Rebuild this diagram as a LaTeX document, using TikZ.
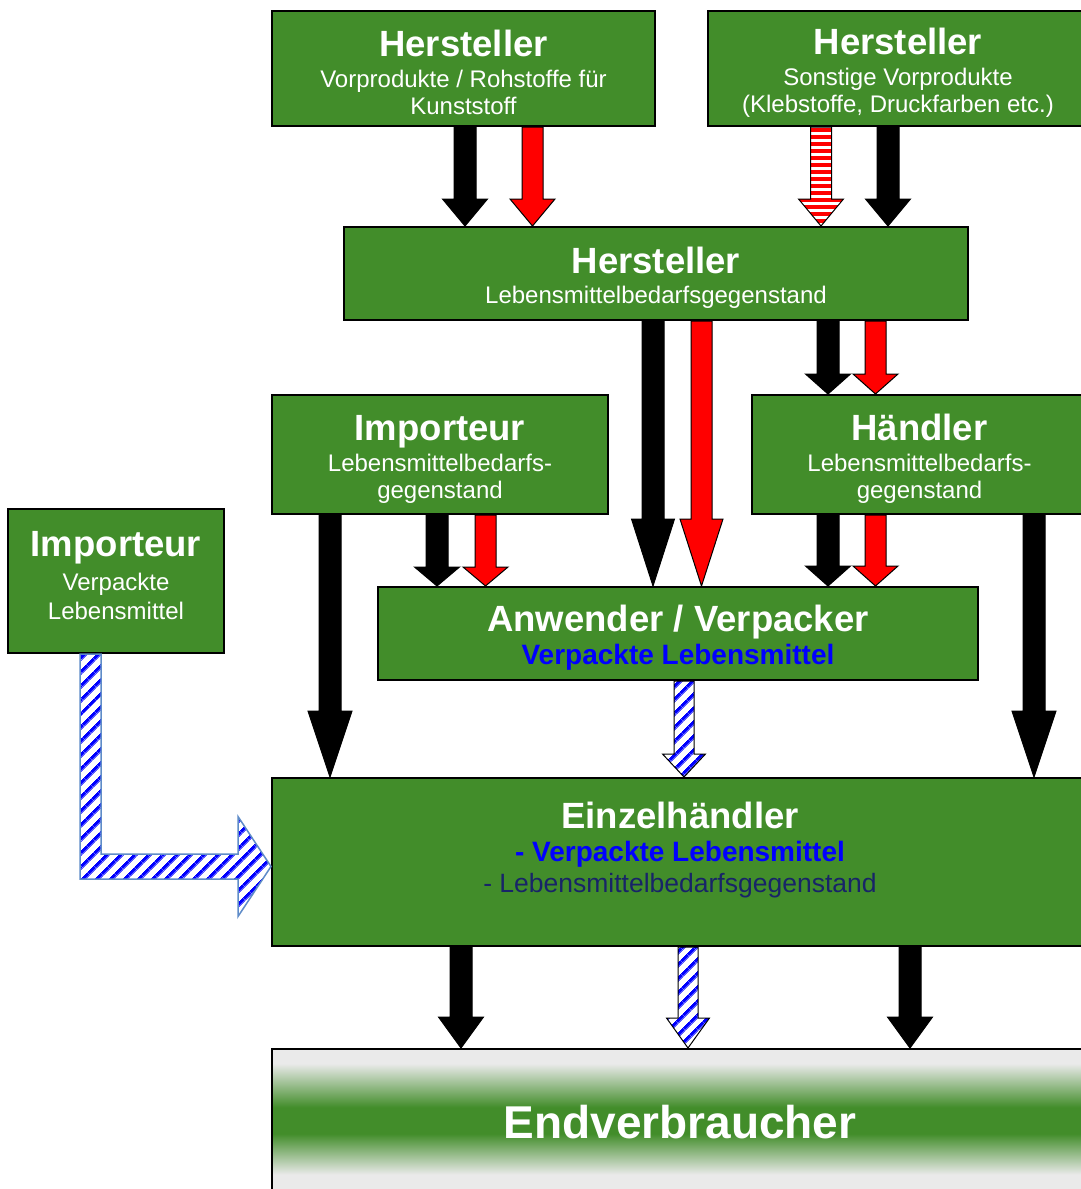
\documentclass[tikz,border=0pt]{standalone}
\usepackage{fontspec}
\setmainfont{Liberation Sans}
\usetikzlibrary{calc,patterns.meta}

\definecolor{boxgreen}{RGB}{66,141,42}
\definecolor{evgray}{RGB}{234,234,234}
\definecolor{navytext}{RGB}{24,36,104}
\definecolor{steelblue}{RGB}{95,140,200}

\newcommand{\boxtitle}{\fontsize{36.5}{40}\selectfont\bfseries}
\newcommand{\boxsub}{\fontsize{24}{27}\selectfont}
\newcommand{\boxblue}{\fontsize{28}{30}\selectfont\bfseries\color{blue}}
\newcommand{\boxnavy}{\fontsize{26.5}{30}\selectfont\color{navytext}}
\newcommand{\toppad}{\mbox{}\\[7pt]}

\pgfdeclarepattern{name=redlines, type=uncolored,
  bottom left={\pgfpoint{-1pt}{0pt}}, top right={\pgfpoint{8pt}{7pt}},
  tile size={\pgfpoint{7pt}{7pt}},
  code={\pgfpathrectangle{\pgfpoint{-1pt}{0pt}}{\pgfpoint{9pt}{3.6pt}}\pgfusepath{fill}}}
\pgfdeclarepattern{name=bluelines, type=uncolored,
  bottom left={\pgfpoint{0pt}{0pt}}, top right={\pgfpoint{10pt}{10pt}},
  tile size={\pgfpoint{10pt}{10pt}},
  tile transformation={\pgftransformrotate{-45}},
  code={\pgfpathrectangle{\pgfpoint{0pt}{0pt}}{\pgfpoint{4pt}{10pt}}\pgfusepath{fill}}}

\pgfdeclareverticalshading{evshade}{100bp}{color(0bp)=(evgray); color(32bp)=(evgray);
  color(46bp)=(boxgreen); color(55bp)=(boxgreen); color(70bp)=(evgray); color(100bp)=(evgray)}

\tikzset{
  arrshaft/.store in=\arrshaft, arrhead/.store in=\arrhead, arrlen/.store in=\arrlen,
  arrshaft=11, arrhead=22.5, arrlen=27,
  downarr/.style={to path={let \p1=(\tikztostart), \p2=(\tikztotarget) in
    (\x1-\arrshaft pt,\y1) -- (\x1-\arrshaft pt,\y2+\arrlen pt) -- (\x1-\arrhead pt,\y2+\arrlen pt)
    -- (\x1,\y2) -- (\x1+\arrhead pt,\y2+\arrlen pt) -- (\x1+\arrshaft pt,\y2+\arrlen pt)
    -- (\x1+\arrshaft pt,\y1) -- cycle}},
  blackarr/.style={downarr, fill=black, draw=black, line width=1pt},
  redarr/.style={downarr, fill=red, draw=black, line width=1pt, arrshaft=10.5},
  redstripe/.style={downarr, draw=black, line width=1pt, arrshaft=10.5,
    preaction={fill=white}, pattern=redlines, pattern color=red},
  bluestripe/.style={downarr, draw=black, line width=1pt, arrshaft=10, arrhead=21.5,
    preaction={fill=white}, pattern=bluelines, pattern color=blue},
}

\begin{document}
\begin{tikzpicture}[x=1pt, y=-1pt,
  box/.style={draw=black, line width=2pt, fill=boxgreen, text=white, align=center,
    inner sep=0pt, font=\boxsub},
  evbox/.style={box, shade, shading=evshade},
  bentarr/.style={draw=steelblue, line width=1.5pt, preaction={fill=white},
    pattern=bluelines, pattern color=blue}]
\fill[white] (0,0) rectangle (1081,1189);
\useasboundingbox (0,0) rectangle (1081,1189);

\node[box, minimum width=383, minimum height=115] (h1) at (463.5,68.5)
  {\toppad{\boxtitle Hersteller}\\[4pt]Vorprodukte / Rohstoffe für\\Kunststoff};
\node[box, minimum width=380, minimum height=115] (h2) at (898,68.5)
  {\toppad{\boxtitle Hersteller}\\[4pt]Sonstige Vorprodukte\\(Klebstoffe, Druckfarben etc.)};
\node[box, minimum width=624, minimum height=93] (h3) at (656,273.5)
  {\toppad{\boxtitle Hersteller}\\[3pt]Lebensmittelbedarfsgegenstand};
\node[box, minimum width=336, minimum height=119] (iml) at (440,454.5)
  {\toppad{\boxtitle Importeur}\\[4pt]Lebensmittelbedarfs-\\gegenstand};
\node[box, minimum width=335, minimum height=119] (hdl) at (919.5,454.5)
  {\toppad{\boxtitle Händler}\\[4pt]Lebensmittelbedarfs-\\gegenstand};
\node[box, minimum width=216, minimum height=144] (ivl) at (116,581)
  {{\boxtitle Importeur}\\[7pt]Verpackte\\[2pt]Lebensmittel\\[-15pt]\mbox{}};
\node[box, minimum width=600, minimum height=93] (anw) at (678,633.5)
  {\toppad{\boxtitle Anwender / Verpacker}\\[4pt]{\boxblue Verpackte Lebensmittel}};
\node[box, minimum width=816, minimum height=168] (ezh) at (680,862)
  {{\boxtitle Einzelhändler}\\[6pt]{\boxblue - Verpackte Lebensmittel}\\[4pt]%
   {\boxnavy - Lebensmittelbedarfsgegenstand}\\[2pt]\mbox{}};
\node[evbox, minimum width=816, minimum height=146] (ev) at (680,1122)
  {\fontsize{46}{50}\selectfont\bfseries Endverbraucher};

\draw[blackarr] (h1.south -| 465,0) to (h3.north -| 465,0);
\draw[redarr] (h1.south -| 532.5,0) to (h3.north -| 532.5,0);
\draw[redstripe] (h2.south -| 821,0) to (h3.north -| 821,0);
\draw[blackarr] (h2.south -| 888,0) to (h3.north -| 888,0);

\draw[blackarr, arrhead=21.5, arrlen=67] (h3.south -| 653,0) to (anw.north -| 653,0);
\draw[redarr, arrhead=21.5, arrlen=67] (h3.south -| 701.5,0) to (anw.north -| 701.5,0);
\draw[blackarr, arrlen=20] (h3.south -| 828,0) to (hdl.north -| 828,0);
\draw[redarr, arrlen=20] (h3.south -| 875.5,0) to (hdl.north -| 875.5,0);

\draw[blackarr, arrlen=19] (iml.south -| 437,0) to (anw.north -| 437,0);
\draw[redarr, arrlen=19] (iml.south -| 485.5,0) to (anw.north -| 485.5,0);
\draw[blackarr, arrlen=20] (hdl.south -| 828,0) to (anw.north -| 828,0);
\draw[redarr, arrlen=20] (hdl.south -| 875.5,0) to (anw.north -| 875.5,0);

\draw[blackarr, arrhead=22, arrlen=66] (iml.south -| 330,0) to (ezh.north -| 330,0);
\draw[blackarr, arrhead=22, arrlen=66] (hdl.south -| 1034,0) to (ezh.north -| 1034,0);
\draw[bluestripe, arrlen=23] (anw.south -| 684,0) to (ezh.north -| 684,0);
\draw[bentarr] let \p1=(ivl.south -| 90.5,0), \p2=(ezh.west |- 0,866.5) in
  (\x1-10.5pt,\y1) -- (\x1-10.5pt,\y2-12.5pt) -- (\x2-33pt,\y2-12.5pt) -- (\x2-33pt,\y2-50pt)
  -- (\x2,\y2) -- (\x2-33pt,\y2+50pt) -- (\x2-33pt,\y2+12.5pt) -- (\x1+10.5pt,\y2+12.5pt)
  -- (\x1+10.5pt,\y1) -- cycle;

\draw[blackarr, arrlen=31] (ezh.south -| 461,0) to (ev.north -| 461,0);
\draw[bluestripe, arrlen=30] (ezh.south -| 688,0) to (ev.north -| 688,0);
\draw[blackarr, arrlen=31] (ezh.south -| 910,0) to (ev.north -| 910,0);
\end{tikzpicture}
\end{document}
